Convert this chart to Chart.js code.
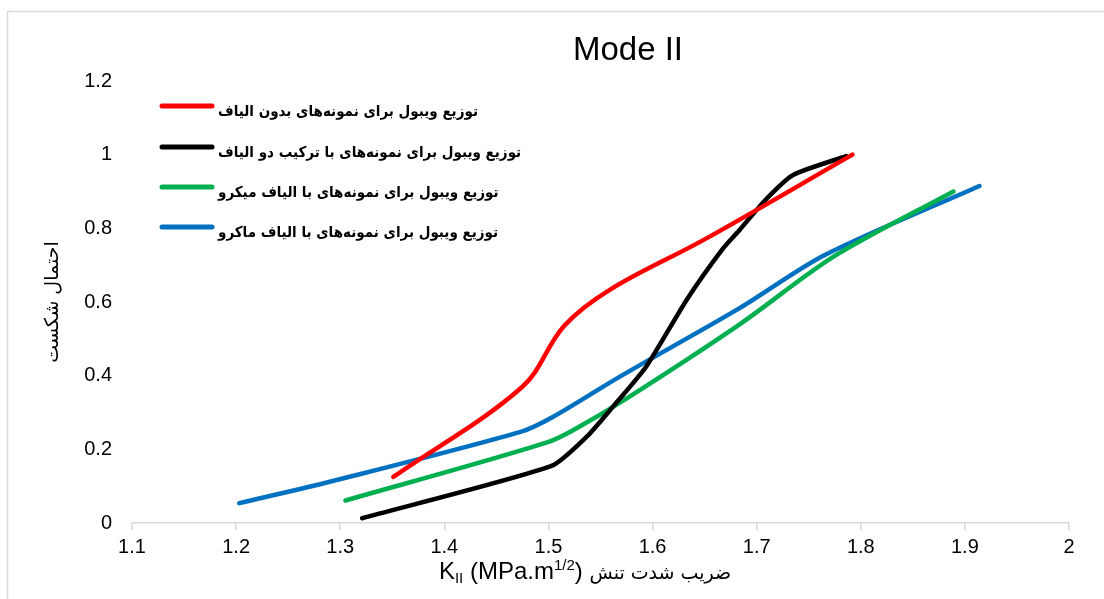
<!DOCTYPE html>
<html>
<head>
<meta charset="utf-8">
<script src="https://cdn.jsdelivr.net/npm/chart.js@4"></script>
<style>
  body { margin: 0; background: #fff; }
  #wrap { width: 1104px; height: 599px; position: relative; }
</style>
</head>
<body>
<div id="wrap"><canvas id="weibull" width="1104" height="599"></canvas></div>
<script>
var seriesLabels = [
  "توزیع ویبول برای نمونه‌های بدون الیاف",
  "توزیع ویبول برای نمونه‌های با ترکیب دو الیاف",
  "توزیع ویبول برای نمونه‌های با الیاف میکرو",
  "توزیع ویبول برای نمونه‌های با الیاف ماکرو"
];
var colors = ["#FF0000", "#000000", "#00B050", "#0070C0"];
var tensions = [0.35, 0.2, 0.3, 0.3];

// K_II values (x) and failure probability (y)
var plainX = [1.351, 1.475, 1.515, 1.56, 1.65, 1.792];
var plainY = [0.125, 0.37, 0.535, 0.635, 0.77, 1.0];

var hybridX = [1.321, 1.503, 1.537, 1.562, 1.594, 1.633, 1.667, 1.684, 1.709, 1.735, 1.786];
var hybridY = [0.013, 0.155, 0.235, 0.316, 0.425, 0.607, 0.743, 0.797, 0.879, 0.945, 0.996];

var microX = [1.305, 1.50, 1.535, 1.59, 1.684, 1.775, 1.889];
var microY = [0.061, 0.22, 0.27, 0.365, 0.54, 0.725, 0.90];

var macroX = [1.203, 1.29, 1.474, 1.505, 1.569, 1.684, 1.765, 1.914];
var macroY = [0.054, 0.112, 0.248, 0.289, 0.398, 0.584, 0.727, 0.915];

var xTicks = [1.1, 1.2, 1.3, 1.4, 1.5, 1.6, 1.7, 1.8, 1.9, 2];
var yTicks = [0, 0.2, 0.4, 0.6, 0.8, 1, 1.2];

var title = "Mode II";
var yTitle = "احتمال شکست";

function pts(xs, ys) {
  return xs.map(function (x, i) { return {x: x, y: ys[i]}; });
}

var allX = [plainX, hybridX, microX, macroX];
var allY = [plainY, hybridY, microY, macroY];

var datasets = seriesLabels.map(function (lab, i) {
  return {
    label: lab,
    data: pts(allX[i], allY[i]),
    borderColor: colors[i],
    backgroundColor: colors[i],
    borderWidth: 4.5,
    borderCapStyle: "round",
    borderJoinStyle: "round",
    pointRadius: 0,
    tension: tensions[i],
    fill: false
  };
});

var latin = "'Liberation Sans', Arial, 'DejaVu Sans', sans-serif";

var decor = {
  id: "decor",
  beforeDraw: function (chart) {
    var ctx = chart.ctx;
    ctx.save();
    ctx.fillStyle = "#fff";
    ctx.fillRect(0, 0, chart.width, chart.height);
    ctx.strokeStyle = "#d9d9d9";
    ctx.lineWidth = 1.5;
    ctx.strokeRect(7.5, 11.5, 1300, 800);
    ctx.restore();
  },
  afterDraw: function (chart) {
    var ctx = chart.ctx;
    ctx.save();
    // title
    ctx.fillStyle = "#000";
    ctx.font = "33px " + latin;
    ctx.textAlign = "center";
    ctx.textBaseline = "middle";
    ctx.fillText(title, 628, 51);

    // legend
    var ly = [106, 147, 187, 227];
    chart.data.datasets.forEach(function (ds, i) {
      ctx.strokeStyle = ds.borderColor;
      ctx.lineWidth = 5;
      ctx.lineCap = "round";
      ctx.beginPath();
      ctx.moveTo(162, ly[i]);
      ctx.lineTo(212, ly[i]);
      ctx.stroke();
      ctx.fillStyle = "#000";
      ctx.font = "bold 15px 'DejaVu Sans Condensed', 'DejaVu Sans', sans-serif";
      ctx.direction = "rtl";
      ctx.textAlign = "left";
      ctx.textBaseline = "middle";
      ctx.fillText(ds.label, 218, ly[i] + 6);
    });

    // x axis title with sub/superscripts
    ctx.direction = "ltr";
    ctx.textAlign = "left";
    ctx.textBaseline = "alphabetic";
    var base = 579;
    var segs = [
      {t: "K", f: "24px " + latin, dy: 0},
      {t: "II", f: "15px " + latin, dy: 4},
      {t: " (MPa.m", f: "24px " + latin, dy: 0},
      {t: "1/2", f: "15px " + latin, dy: -9},
      {t: ") ", f: "24px " + latin, dy: 0},
      {t: "ضریب شدت تنش", f: "19px 'DejaVu Sans', sans-serif", dy: 0, rtl: true}
    ];
    var total = 0;
    segs.forEach(function (s) { ctx.font = s.f; s.w = ctx.measureText(s.t).width; total += s.w; });
    var x = 585 - total / 2;
    segs.forEach(function (s) {
      ctx.font = s.f;
      ctx.direction = s.rtl ? "rtl" : "ltr";
      ctx.textAlign = "left";
      ctx.fillText(s.t, x, base + s.dy);
      x += s.w;
    });
    ctx.restore();
  }
};

var config = {
  type: "line",
  data: {datasets: datasets},
  options: {
    responsive: false,
    animation: false,
    layout: {padding: {left: 0, right: 35, top: 81, bottom: 0}},
    plugins: {legend: {display: false}, tooltip: {enabled: false}},
    scales: {
      x: {
        type: "linear",
        min: 1.1,
        max: 2,
        afterBuildTicks: function (s) { s.ticks = xTicks.map(function (v) { return {value: v}; }); },
        afterFit: function (s) { s.height = 76; },
        grid: {drawOnChartArea: false, drawTicks: true, tickLength: 7, color: "#d9d9d9", lineWidth: 1.5},
        border: {color: "#d9d9d9", width: 1.5},
        ticks: {color: "#000", font: {family: latin, size: 20}, padding: 5, maxRotation: 0,
          callback: function (v) { return String(v); }}
      },
      y: {
        type: "linear",
        min: 0,
        max: 1.2,
        afterBuildTicks: function (s) { s.ticks = yTicks.map(function (v) { return {value: v}; }); },
        afterFit: function (s) { s.width = 132; },
        grid: {display: false, drawTicks: false},
        border: {display: false},
        title: {display: true, text: yTitle, color: "#000", font: {family: "'DejaVu Sans', sans-serif", size: 19}, padding: {top: 42, bottom: 0}},
        ticks: {color: "#000", font: {family: latin, size: 20}, padding: 20,
          callback: function (v) { return String(v); }}
      }
    }
  },
  plugins: [decor]
};

var weibullChart = new Chart(document.getElementById("weibull"), config);
</script>
</body>
</html>
